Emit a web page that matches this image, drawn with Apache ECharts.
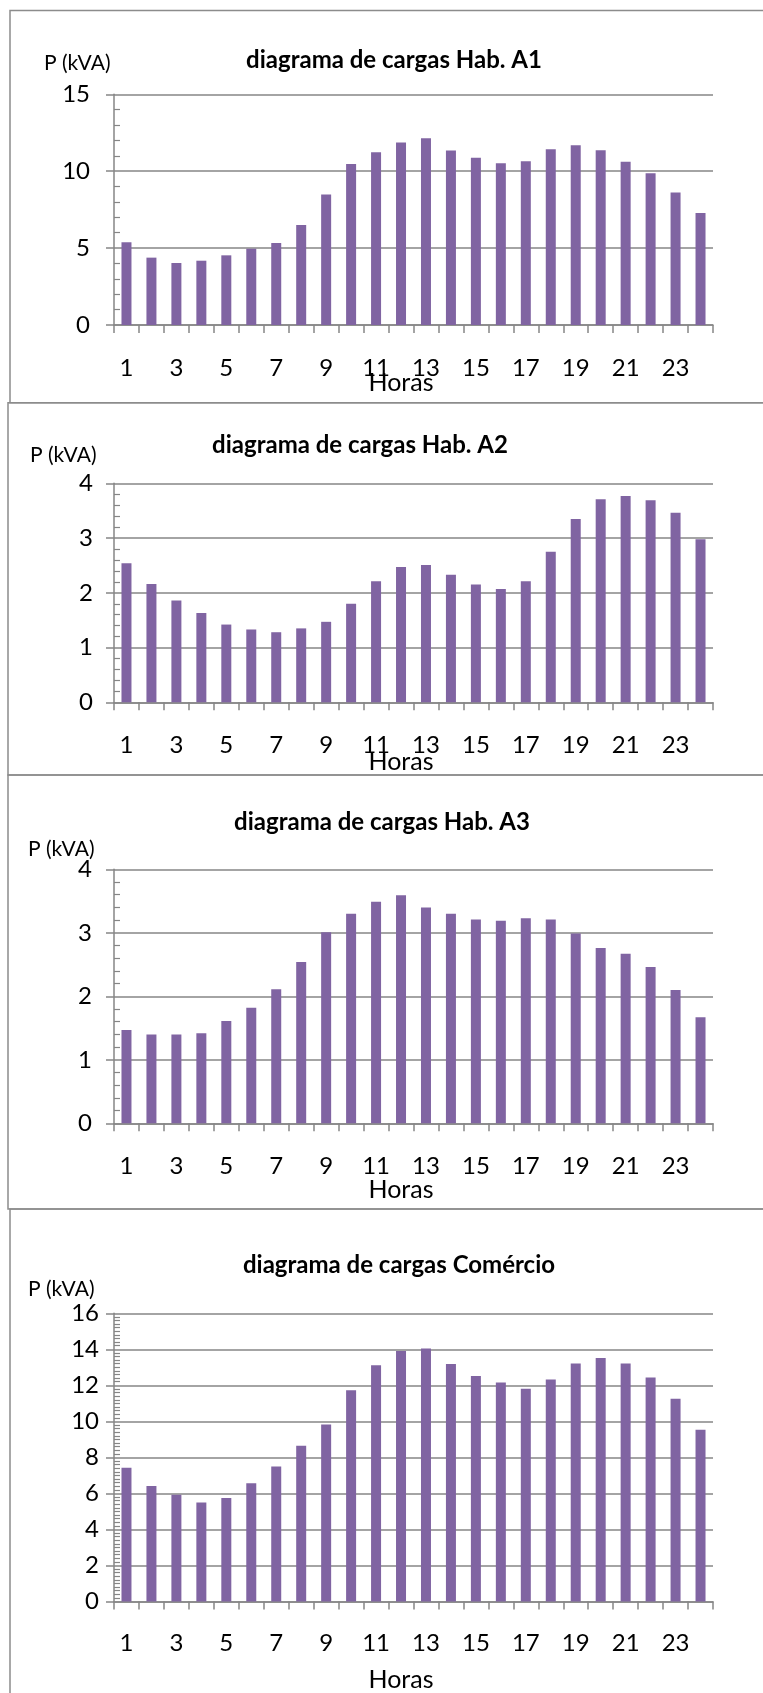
<!DOCTYPE html>
<html>
<head>
<meta charset="utf-8">
<script src="https://cdn.jsdelivr.net/npm/echarts@6/dist/echarts.min.js"></script>
<style>
html,body{margin:0;padding:0;background:#fff;}
#c{width:763px;height:1693px;}
</style>
</head>
<body>
<div id="c"></div>
<script>
const hours = ['1','2','3','4','5','6','7','8','9','10','11','12','13','14','15','16','17','18','19','20','21','22','23','24'];
const titles = ['diagrama de cargas Hab. A1','diagrama de cargas Hab. A2','diagrama de cargas Hab. A3','diagrama de cargas Comércio'];
const yName = 'P (kVA)';
const xName = 'Horas';
const habA1 = [5.38,4.38,4.03,4.18,4.53,4.96,5.33,6.50,8.48,10.47,11.23,11.86,12.14,11.34,10.88,10.51,10.64,11.42,11.68,11.36,10.62,9.86,8.61,7.28];
const habA2 = [2.54,2.16,1.86,1.63,1.42,1.33,1.28,1.35,1.47,1.80,2.21,2.47,2.51,2.33,2.15,2.07,2.21,2.75,3.35,3.71,3.77,3.69,3.46,2.98];
const habA3 = [1.47,1.40,1.40,1.42,1.61,1.82,2.11,2.54,3.01,3.30,3.49,3.59,3.40,3.30,3.21,3.19,3.23,3.21,2.99,2.76,2.67,2.46,2.10,1.67];
const comercio = [7.43,6.41,5.92,5.49,5.74,6.56,7.49,8.64,9.82,11.73,13.11,13.91,14.04,13.19,12.52,12.16,11.81,12.33,13.21,13.52,13.21,12.44,11.25,9.54];
const yMax = [15, 4, 4, 16];
const yStep = [5, 1, 1, 2];
const yMinorSplit = [5, 5, 5, 10];
const series = [habA1, habA2, habA3, comercio];

const FONT = 'Lato, "Open Sans", sans-serif';
const GRAY = '#868686';
const BAR = '#8064A2';

// layout per panel
const L = [
  {frame:[10,10.5,800,392.2], top:94.3, bottom:325, titleX:394, titleY:60, pX:44, pY:63, hY:383, labMargin:[24,31]},
  {frame:[8,402.7,800,372.3], top:483.3, bottom:702.3, titleX:360, titleY:445, pX:30, pY:455, hY:762, labMargin:[21,31]},
  {frame:[8,775,800,434], top:869.3, bottom:1123.3, titleX:382, titleY:822, pX:28, pY:849, hY:1190, labMargin:[22,31]},
  {frame:[10,1209,800,600], top:1313.3, bottom:1601.5, titleX:399, titleY:1265, pX:28, pY:1289, hY:1680, labMargin:[15,30]}
];

const grid=[], xAxis=[], yAxis=[], ser=[], graphic=[];
L.forEach((p,i)=>{
  graphic.push({type:'rect', shape:{x:p.frame[0],y:p.frame[1],width:p.frame[2],height:p.frame[3]}, style:{fill:null, stroke:'#8c8c8c', lineWidth:1.5}, z:-1});
  graphic.push({type:'text', x:p.titleX, y:p.titleY, style:{text:titles[i], font:'bold 24px '+FONT, fill:'#000', textAlign:'center', textVerticalAlign:'middle'}});
  graphic.push({type:'text', x:p.pX, y:p.pY, style:{text:yName, font:'21px '+FONT, fill:'#000', textAlign:'left', textVerticalAlign:'middle'}});
  graphic.push({type:'text', x:401, y:p.hY, style:{text:xName, font:'25px '+FONT, fill:'#000', textAlign:'center', textVerticalAlign:'middle'}});
  grid.push({left:114, width:599, top:p.top, height:p.bottom-p.top, outerBoundsMode:'none'});
  xAxis.push({type:'category', gridIndex:i, data:hours, boundaryGap:true,
    axisLine:{lineStyle:{color:GRAY,width:1.5}},
    axisTick:{show:true, interval:0, length:8, lineStyle:{color:GRAY,width:1.5}},
    axisLabel:{interval:1, margin:p.labMargin[1], color:'#000', fontSize:24, fontFamily:FONT},
    splitLine:{show:false}});
  yAxis.push({type:'value', gridIndex:i, min:0, max:yMax[i], interval:yStep[i],
    axisLine:{show:true, lineStyle:{color:GRAY,width:1.5}},
    axisTick:{show:true, length:8, lineStyle:{color:GRAY,width:1.5}},
    minorTick:{show:true, splitNumber:yMinorSplit[i], length:-6, lineStyle:{color:GRAY,width:1.2}},
    axisLabel:{margin:p.labMargin[0], color:'#000', fontSize:24, fontFamily:FONT},
    splitLine:{show:true, lineStyle:{color:GRAY,width:1.5}},
    minorSplitLine:{show:false}});
  ser.push({type:'bar', xAxisIndex:i, yAxisIndex:i, data:series[i], barWidth:10, itemStyle:{color:BAR}, animation:false});
});

const chart = echarts.init(document.getElementById('c'), null, {renderer:'canvas'});
chart.setOption({animation:false, backgroundColor:'#fff', grid, xAxis, yAxis, series:ser, graphic});
</script>
</body>
</html>
